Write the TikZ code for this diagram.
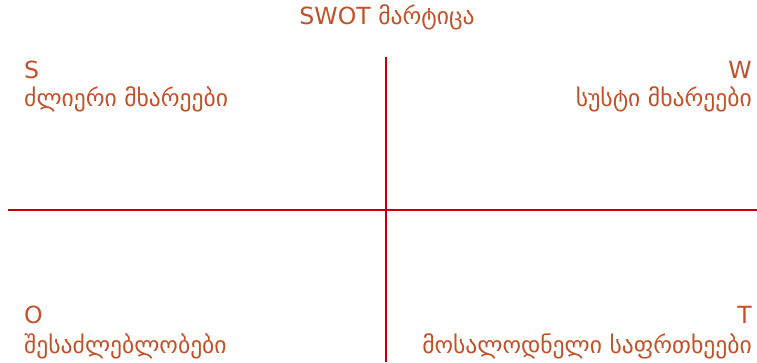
\documentclass[tikz,border=0pt]{standalone}
\usepackage{fontspec}
\setmainfont{DejaVu Sans}
\usepackage{xcolor}
\definecolor{swottext}{RGB}{196,80,40}
\definecolor{swotline}{RGB}{192,0,0}

\begin{document}
\begin{tikzpicture}[x=1pt, y=-1pt,
    lbl/.style={inner sep=0pt, text=swottext, font=\fontsize{23.6}{28}\selectfont},
    axis/.style={swotline, line width=2.2pt}]
  %--- Frame
  \useasboundingbox (0,0) rectangle (757,362);
  %--- Coordinates
  \coordinate (L) at (8,210);
  \coordinate (R) at (757,210);
  \coordinate (U) at (386,57);
  \coordinate (D) at (386,362);
  %--- Cross
  \draw[axis] (L) -- (R);
  \draw[axis] (U) -- (D);
  %--- Title
  \node[lbl, anchor=base] (title) at (387,24) {SWOT მარტიცა};
  %--- Quadrants
  \node[lbl, anchor=base west] (s)    at (24,78)  {S};
  \node[lbl, anchor=base west] (slbl) at (24,106) {ძლიერი მხარეები};
  \node[lbl, anchor=base east] (w)    at (752,78)  {W};
  \node[lbl, anchor=base east] (wlbl) at (752,106) {სუსტი მხარეები};
  \node[lbl, anchor=base west] (o)    at (24,323) {O};
  \node[lbl, anchor=base west] (olbl) at (24,353) {შესაძლებლობები};
  \node[lbl, anchor=base east] (t)    at (752,323) {T};
  \node[lbl, anchor=base east] (tlbl) at (752,353) {მოსალოდნელი საფრთხეები};
\end{tikzpicture}
\end{document}
